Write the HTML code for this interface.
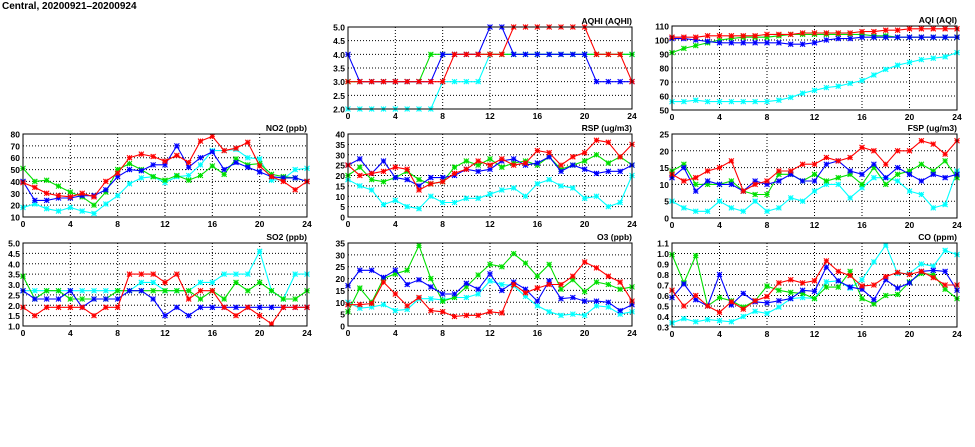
<!DOCTYPE html>
<html><head><meta charset="utf-8"><style>
html,body{margin:0;padding:0;background:#fff;width:975px;height:447px;overflow:hidden}
svg{display:block}
text{font-family:"Liberation Sans",sans-serif;font-weight:bold;fill:#000}
</style></head><body>
<svg id="s" width="975" height="447" xmlns="http://www.w3.org/2000/svg">
<text x="2" y="9" font-size="10">Central, 20200921–20200924</text>
</svg>
<script>
var S=document.getElementById('s'),NS='http://www.w3.org/2000/svg';
function el(t,a,txt){var e=document.createElementNS(NS,t);for(var k in a)e.setAttribute(k,a[k]);if(txt!=null)e.textContent=txt;S.appendChild(e);return e;}
var C={c:'#00ffff',g:'#00e000',b:'#0000ff',r:'#ff0000'};
function panel(x0,y0,w,h,mn,mx,step,dec,title,d){
 var sx=function(i){return x0+i*w/24},sy=function(v){return y0+h-(v-mn)/(mx-mn)*h};
 var n=Math.round((mx-mn)/step);
 for(var i=0;i<=n;i++){var v=mn+i*step,y=sy(v);
  if(i>0&&i<n)el('line',{x1:x0,x2:x0+w,y1:y,y2:y,stroke:'#000','stroke-width':1,'stroke-dasharray':'1,2'});
  el('text',{x:x0-3,y:y+3.5,'font-size':8.5,'text-anchor':'end'},v.toFixed(dec));}
 for(var t=0;t<=24;t+=4){var x=sx(t);
  if(t>0&&t<24)el('line',{x1:x,x2:x,y1:y0,y2:y0+h,stroke:'#000','stroke-width':1,'stroke-dasharray':'1,2'});
  el('text',{x:x,y:y0+h+10,'font-size':8.5,'text-anchor':'middle'},t);}
 el('text',{x:x0+w,y:y0-3,'font-size':8.5,'text-anchor':'end'},title);
 ['c','g','b','r'].forEach(function(k){var a=d[k];if(!a)return;var p=a.map(function(v,i){return sx(i).toFixed(1)+','+sy(v).toFixed(1)}).join(' ');
  el('polyline',{points:p,fill:'none',stroke:C[k],'stroke-width':1.1});
  a.forEach(function(v,i){var x=sx(i),y=sy(v),r=2.5;
   el('path',{d:'M'+(x-r)+' '+(y-r)+'L'+(x+r)+' '+(y+r)+'M'+(x-r)+' '+(y+r)+'L'+(x+r)+' '+(y-r)+'M'+(x-r)+' '+y+'L'+(x+r)+' '+y+'M'+x+' '+(y-r)+'L'+x+' '+(y+r),stroke:C[k],'stroke-width':1.1,fill:'none'});});});
 el('rect',{x:x0,y:y0,width:w,height:h,fill:'none',stroke:'#000','stroke-width':1});
}
panel(348,27,284,82,2,5,0.5,1,'AQHI (AQHI)',{
g:[3,3,3,3,3,3,3,4,4,4,4,4,4,4,4,4,4,4,4,4,4,4,4,4,4],
b:[4,3,3,3,3,3,3,3,4,4,4,4,5,5,4,4,4,4,4,4,4,3,3,3,3],
r:[3,3,3,3,3,3,3,3,3,4,4,4,4,4,5,5,5,5,5,5,5,4,4,4,3],
c:[2,2,2,2,2,2,2,2,3,3,3,3,4,4,4,4,4,4,4,4,4,4,4,4,4]});
panel(672,26,285,84,50,110,10,0,'AQI (AQI)',{
r:[102,102,102,103,103,103,103,103,104,104,104,105,105,105,105,105,106,106,107,107,108,108,108,108,108],
b:[101,101,100,99,98,98,98,98,98,98,97,97,98,100,101,101,102,102,102,102,102,102,102,102,102],
g:[91,94,96,98,100,101,102,102,102,103,104,104,104,104,104,104,104,103,103,102,102,102,102,102,102],
c:[56,56,57,56,56,56,56,56,56,57,59,62,64,66,67,69,71,75,79,82,84,86,87,88,91]});
panel(23,134,284,83,10,80,10,0,'NO2 (ppb)',{
g:[51,40,41,36,31,27,20,31,50,55,50,44,41,45,41,45,53,46,59,54,55,46,44,43,40],
b:[40,24,24,26,26,28,28,33,44,50,49,54,54,70,52,60,65,50,56,52,48,44,43,43,40],
r:[39,35,30,28,27,30,27,40,47,60,63,61,57,62,56,74,78,66,68,73,53,44,40,33,40],
c:[18,21,17,15,18,15,13,21,28,38,43,44,39,44,45,54,66,66,67,60,59,41,42,50,51]});
panel(348,134,284,83,0,40,5,0,'RSP (ug/m3)',{
g:[20,24,18,17,19,22,18,16,17,24,27,25,28,24,26,27,25,29,23,25,27,30,26,29,25],
b:[25,28,21,27,19,18,15,19,19,20,23,22,23,27,28,25,26,29,22,25,23,21,22,22,25],
r:[25,20,21,22,24,23,13,16,17,21,23,27,25,28,25,26,32,31,25,29,31,37,36,29,35],
c:[18,15,13,6,8,5,4,10,7,7,9,9,11,13,14,10,16,18,15,14,9,10,5,7,20]});
panel(672,134,285,84,0,25,5,0,'FSP (ug/m3)',{
r:[13,11,12,14,15,17,8,10,11,14,14,16,16,18,17,18,21,20,16,20,20,23,22,19,23],
b:[12,15,8,11,10,10,8,11,10,11,13,11,11,16,17,14,13,16,12,15,13,11,13,12,13],
g:[14,16,10,10,10,11,8,7,7,13,13,11,13,11,12,13,10,15,10,13,14,16,14,17,12],
c:[5,3,2,2,5,3,2,5,2,3,6,5,8,10,10,6,9,12,12,11,8,7,3,4,14]});
panel(23,243,284,83,1,5,0.5,1,'SO2 (ppb)',{
g:[3.4,2.3,2.7,2.7,2.3,2.3,2.3,2.3,2.7,2.7,2.7,2.7,2.7,2.7,2.7,2.3,2.7,2.3,3.1,2.7,3.1,2.7,2.3,2.3,2.7],
c:[2.7,2.7,2.7,2.7,2.7,2.7,2.7,2.7,2.7,2.7,3.1,3.1,2.7,2.7,2.7,3.1,3.1,3.5,3.5,3.5,4.6,2.7,2.3,3.5,3.5],
b:[2.7,2.3,2.3,2.3,2.7,1.9,2.3,2.3,2.3,2.7,2.7,2.3,1.5,1.9,1.5,1.9,1.9,1.9,1.9,1.9,1.9,1.9,1.9,1.9,1.9],
r:[1.9,1.5,1.9,1.9,1.9,1.9,1.5,1.9,1.9,3.5,3.5,3.5,3.1,3.5,2.3,2.7,2.7,1.9,1.5,1.9,1.5,1.1,1.9,1.9,1.9]});
panel(348,243,284,83,0,35,5,0,'O3 (ppb)',{
g:[6,16,10,20,22,23.5,34,20,10.5,12,16.5,21.5,26,25,30.5,26.5,21,26,15.5,19.5,14.5,18.5,17.5,15.5,16.5],
b:[17,23.5,23.5,20.5,23.5,17.5,19.5,16.5,13.5,13.5,18,15.5,22,15,18.5,15.5,10.5,19,11.5,12,10.5,10.5,10,6.5,9],
r:[9,9,9.5,18.5,13.5,8.5,12,6.5,6,4,4.5,4.5,6,5.5,17.5,14,16,17.5,17.5,21,27,24.5,21,18.5,10.5],
c:[10,7.5,8,9,6.5,7,11.5,11.5,11,12,12,13.5,19,17.5,17,12.5,8.5,6,4.5,5,4.5,8.5,8,5,6]});
panel(672,243,285,84,0.3,1.1,0.1,1,'CO (ppm)',{
g:[0.99,0.72,0.98,0.5,0.58,0.55,0.49,0.55,0.69,0.65,0.63,0.62,0.57,0.68,0.68,0.83,0.57,0.52,0.60,0.61,0.73,0.81,0.80,0.66,0.57],
b:[0.58,0.71,0.56,0.50,0.80,0.51,0.62,0.54,0.53,0.55,0.57,0.65,0.64,0.87,0.74,0.68,0.66,0.56,0.75,0.67,0.72,0.83,0.84,0.83,0.65],
r:[0.65,0.50,0.60,0.50,0.44,0.54,0.47,0.55,0.59,0.72,0.75,0.72,0.74,0.93,0.83,0.79,0.69,0.70,0.78,0.82,0.80,0.83,0.77,0.70,0.70],
c:[0.34,0.38,0.35,0.37,0.36,0.35,0.40,0.45,0.43,0.49,0.57,0.58,0.57,0.73,0.74,0.67,0.75,0.92,1.08,0.81,0.81,0.90,0.88,1.03,0.99]});
</script>
</body></html>
